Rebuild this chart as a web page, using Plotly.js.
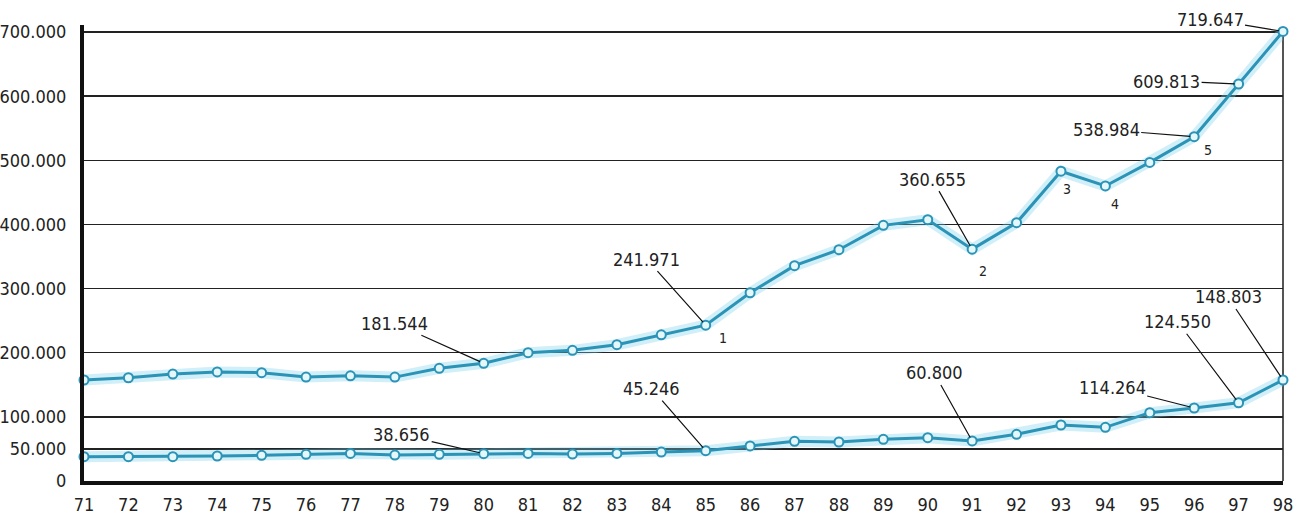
<!DOCTYPE html>
<html>
<head>
<meta charset="utf-8">
<script src="https://cdn.plot.ly/plotly-3.0.1.min.js"></script>
<style>html,body{margin:0;padding:0;background:#fff;}#chart{width:1299px;height:519px;}</style>
</head>
<body>
<div id="chart"></div>
<script>
// ---- data ----
var years = [71,72,73,74,75,76,77,78,79,80,81,82,83,84,85,86,87,88,89,90,91,92,93,94,95,96,97,98];
var upperSeries = [157500,161000,166800,170000,168900,162000,164000,162000,175700,183500,200000,203700,212500,228000,243000,293500,335700,360600,398600,407400,361500,402700,483000,460000,496800,536800,619000,701000];
var lowerSeries = [37900,37900,37900,39000,40000,41600,43000,40500,41600,42600,43000,42000,43000,45200,47300,54600,61900,60800,65000,67500,62400,72800,87300,83700,106500,113800,122000,157500];
var yTickVals = [0,50000,100000,200000,300000,400000,500000,600000,700000];
var yTickText = ["0","50.000","100.000","200.000","300.000","400.000","500.000","600.000","700.000"];
var xTickText = years.map(String);

// callouts: [seriesName, year, text, ax, ay]
var valueCallouts = [
  ["upper", 80, "181.544", -89, -40],
  ["upper", 85, "241.971", -59, -66],
  ["upper", 91, "360.655", -40, -70],
  ["upper", 96, "538.984", -88, -7],
  ["upper", 97, "609.813", -72, -3],
  ["upper", 98, "719.647", -73, -12],
  ["lower", 80, "38.656", -82, -19],
  ["lower", 85, "45.246", -54, -62],
  ["lower", 91, "60.800", -38, -68],
  ["lower", 96, "114.264", -82, -21],
  ["lower", 97, "124.550", -61, -81],
  ["lower", 98, "148.803", -55, -83]
];
// numbered notes on the upper series: [year, label, dx, dy]
var noteMarks = [[85,"1",17,13],[91,"2",11,22],[93,"3",6,18],[94,"4",10,18],[96,"5",14,13]];

// ---- build ----
var FONT = "'DejaVu Sans Condensed', 'Liberation Sans Narrow', sans-serif";
var LINE = "#2b93b6";
var GLOW = "rgba(120,208,235,0.35)";
function seriesOf(name){ return name === "upper" ? upperSeries : lowerSeries; }

var traces = [];
[upperSeries, lowerSeries].forEach(function(s){
  traces.push({x: years, y: s, type: "scatter", mode: "lines", hoverinfo: "skip",
    line: {color: GLOW, width: 11}, cliponaxis: false, showlegend: false});
});
[upperSeries, lowerSeries].forEach(function(s){
  traces.push({x: years, y: s, type: "scatter", mode: "lines+markers",
    line: {color: LINE, width: 3},
    marker: {symbol: "circle", size: 9, color: "#e4f7fb", line: {color: LINE, width: 2}},
    cliponaxis: false, showlegend: false});
});

var annotations = [];
valueCallouts.forEach(function(c){
  var s = seriesOf(c[0]);
  var i = years.indexOf(c[1]);
  annotations.push({x: c[1], y: s[i], xref: "x", yref: "y", text: c[2],
    showarrow: true, arrowhead: 0, arrowwidth: 1.2, arrowcolor: "#111",
    ax: c[3], ay: c[4], standoff: 4,
    font: {family: FONT, size: 18, color: "#222"}});
});
noteMarks.forEach(function(n){
  var i = years.indexOf(n[0]);
  annotations.push({x: n[0], y: upperSeries[i], xref: "x", yref: "y", text: n[1],
    showarrow: false, xshift: n[2], yshift: -n[3],
    font: {family: FONT, size: 14, color: "#222"}});
});

var layout = {
  width: 1299, height: 519,
  margin: {l: 84, r: 16, t: 25, b: 38},
  paper_bgcolor: "#fff", plot_bgcolor: "#fff",
  showlegend: false,
  font: {family: FONT, size: 18, color: "#222"},
  xaxis: {type: "linear", range: [71, 98], tickvals: years, ticktext: xTickText,
    showgrid: false, zeroline: false, showline: true, linecolor: "#111", linewidth: 4,
    ticks: "outside", ticklen: 4, tickcolor: "rgba(0,0,0,0)",
    tickfont: {family: FONT, size: 18, color: "#222"}},
  yaxis: {range: [0, 711000], tickvals: yTickVals, ticktext: yTickText,
    showgrid: true, gridcolor: "#222", gridwidth: 1.5, zeroline: false,
    showline: true, linecolor: "#111", linewidth: 4,
    ticks: "outside", ticklen: 10, tickcolor: "rgba(0,0,0,0)",
    tickfont: {family: FONT, size: 18, color: "#222"}},
  shapes: [{type: "line", xref: "paper", yref: "y", x0: 1, x1: 1, y0: 0, y1: 700000,
    line: {color: "#555", width: 2}, layer: "below"}],
  annotations: annotations
};

Plotly.newPlot("chart", traces, layout, {displayModeBar: false, staticPlot: true});
</script>
</body>
</html>
